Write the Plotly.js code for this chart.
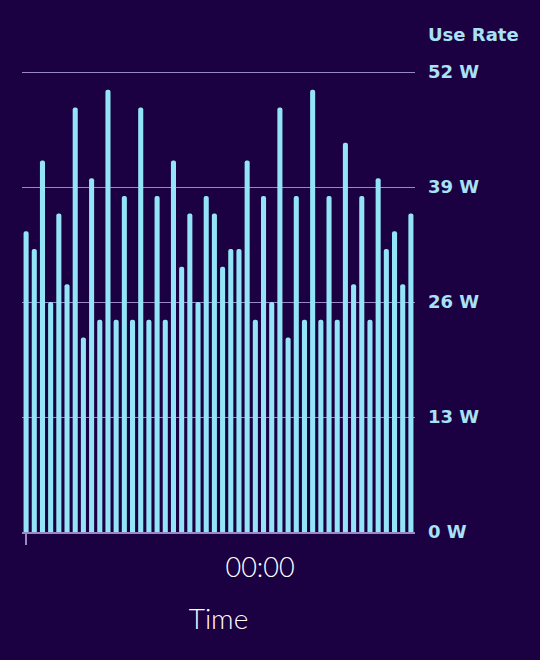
<!DOCTYPE html>
<html>
<head>
<meta charset="utf-8">
<script src="https://cdn.plot.ly/plotly-3.0.1.min.js"></script>
<style>
html,body{margin:0;padding:0;background:#1b0042;}
#chart{width:540px;height:660px;}
</style>
</head>
<body>
<div id="chart"></div>
<script>
const slots = [0,1,2,3,4,5,6,7,8,9,10,11,12,13,14,15,16,17,18,19,20,21,22,23,24,25,26,27,28,29,30,31,32,33,34,35,36,37,38,39,40,41,42,43,44,45,46,47];
const useRate = [34,32,42,26,36,28,48,22,40,24,50,24,38,24,48,24,
                 38,24,42,30,36,26,38,36,30,32,32,42,24,38,26,48,
                 22,38,24,50,24,38,24,44,28,38,24,40,32,34,28,36];
const yTicks = [0,13,26,39,52];
const yTickText = ['0 W','13 W','26 W','39 W','52 W'];
const xTickVals = [0];
const xTickText = ['00:00'];

const bg = '#1b0042';
const gridCol = '#9a88c4';

const trace = {
  type: 'bar',
  x: slots,
  y: useRate,
  width: 0.62,
  marker: {color: '#94e4f7', cornerradius: 3, line: {width: 0}},
  hoverinfo: 'skip'
};

const layout = {
  width: 540, height: 660,
  paper_bgcolor: bg, plot_bgcolor: bg,
  margin: {l: 22, r: 125, t: 71, b: 128},
  showlegend: false,
  xaxis: {
    range: [-0.5, 47.5],
    tickvals: xTickVals, ticktext: xTickText,
    ticks: 'outside', ticklen: 11, tickwidth: 1.5, tickcolor: gridCol,
    ticklabelshift: 234, ticklabelstandoff: 0,
    tickfont: {family: 'Lato', size: 27, color: '#ffffff', weight: 300},
    showgrid: false, zeroline: false,
    showline: true, linecolor: gridCol, linewidth: 1.5,
    title: {text: 'Time', standoff: 27, font: {family: 'Lato', size: 28, color: '#ffffff', weight: 300}},
    fixedrange: true
  },
  yaxis: {
    side: 'right',
    range: [0, 52.12],
    tickvals: yTicks, ticktext: yTickText,
    ticks: '', ticklabelstandoff: 12,
    tickfont: {family: 'DejaVu Sans', size: 18, color: '#a8e2f7', weight: 'bold'},
    showgrid: true, gridcolor: gridCol, gridwidth: 1,
    zeroline: false, showline: false,
    fixedrange: true
  },
  annotations: [{
    text: 'Use Rate', xref: 'paper', yref: 'paper',
    x: 1, xshift: 11, xanchor: 'left', y: 1, yshift: 37, yanchor: 'middle',
    showarrow: false,
    font: {family: 'DejaVu Sans', size: 18, color: '#a8e2f7', weight: 'bold'}
  }]
};

Plotly.newPlot('chart', [trace], layout, {displayModeBar: false, staticPlot: true});
</script>
</body>
</html>
